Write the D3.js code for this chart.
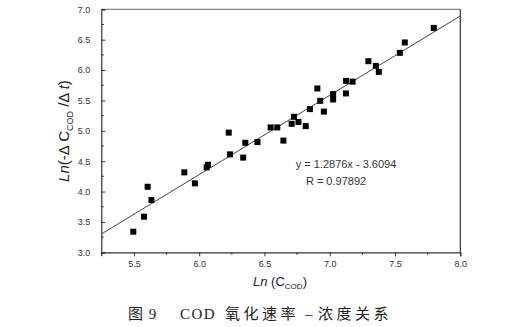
<!DOCTYPE html>
<html><head><meta charset="utf-8">
<script src="https://cdn.jsdelivr.net/npm/d3@7"></script>
<style>body{margin:0;background:#fff}svg{display:block}</style>
</head><body>
<svg id="c" width="508" height="327"></svg>
<script>
const xVals = [5.495,5.577,5.605,5.634,5.886,5.967,6.057,6.067,6.226,6.236,6.337,6.353,6.446,6.645,6.547,6.598,6.708,6.726,6.760,6.816,6.848,6.905,6.927,6.955,7.026,7.026,7.125,7.124,7.175,7.296,7.353,7.376,7.537,7.575,7.797];
const yVals = [3.339,3.586,4.079,3.860,4.316,4.135,4.398,4.441,4.970,4.612,4.559,4.803,4.814,4.839,5.056,5.056,5.115,5.230,5.146,5.077,5.357,5.697,5.493,5.316,5.604,5.516,5.822,5.615,5.809,6.146,6.069,5.970,6.283,6.454,6.694];
const fitX = [5.25, 8.0];
const fitY = [3.30, 6.89];
const xTicks = [5.5,6.0,6.5,7.0,7.5,8.0];
const yTicks = [3.0,3.5,4.0,4.5,5.0,5.5,6.0,6.5,7.0];
const eqText = "y = 1.2876x - 3.6094";
const rText = "R = 0.97892";
const captionParts = ["图 9", "COD", "氧化速率", "–", "浓度关系"];

const svg = d3.select("#c");
const L = 101.3, T = 9.3, R = 460.3, B = 252.3;
const x = d3.scaleLinear().domain([5.25, 8.0]).range([L, R]);
const y = d3.scaleLinear().domain([3.0, 7.0]).range([B, T]);

// frame
svg.append("line").attr("x1",L).attr("x2",R).attr("y1",T).attr("y2",T).attr("stroke","#888").attr("stroke-width",1.2);
svg.append("line").attr("x1",R).attr("x2",R).attr("y1",T).attr("y2",B).attr("stroke","#333").attr("stroke-width",1.2);

// x axis
const xAxis = d3.axisBottom(x).tickValues(xTicks).tickFormat(d3.format(".1f")).tickSize(4).tickPadding(4);
const gx = svg.append("g").attr("transform",`translate(0,${B})`).call(xAxis);
gx.select(".domain").attr("stroke","#333").attr("stroke-width",1.2);
gx.selectAll(".tick line").attr("stroke","#333");
gx.selectAll("text").attr("font-family","Liberation Sans, Arial").attr("font-size",9).attr("fill","#333");
const xMinor = d3.range(5.25, 8.001, 0.25).filter(v => !xTicks.some(t => Math.abs(t-v)<1e-6));
svg.append("g").selectAll("line").data(xMinor).join("line")
  .attr("x1",d=>x(d)).attr("x2",d=>x(d)).attr("y1",B).attr("y2",B+2.5).attr("stroke","#333");

// y axis
const yAxis = d3.axisLeft(y).tickValues(yTicks).tickFormat(d3.format(".1f")).tickSize(-4).tickPadding(11);
const gy = svg.append("g").attr("transform",`translate(${L},0)`).call(yAxis);
gy.select(".domain").attr("stroke","#333").attr("stroke-width",1.2);
gy.selectAll(".tick line").attr("stroke","#333");
gy.selectAll("text").attr("font-family","Liberation Sans, Arial").attr("font-size",9).attr("fill","#333");
const yMinor = d3.range(3.25, 7.0, 0.5);
svg.append("g").selectAll("line").data(yMinor).join("line")
  .attr("x1",L).attr("x2",L+2.5).attr("y1",d=>y(d)).attr("y2",d=>y(d)).attr("stroke","#333");

// fit line
svg.append("path").datum(fitX.map((v,i)=>[v,fitY[i]]))
  .attr("d", d3.line().x(d=>x(d[0])).y(d=>y(d[1])))
  .attr("stroke","#444").attr("stroke-width",1).attr("fill","none");

// points
const s = 6;
svg.append("g").selectAll("rect").data(xVals.map((v,i)=>[v,yVals[i]])).join("rect")
  .attr("x",d=>x(d[0])-s/2).attr("y",d=>y(d[1])-s/2).attr("width",s).attr("height",s).attr("fill","#000");

// equation text
svg.append("text").attr("x",346).attr("y",168).attr("text-anchor","middle")
  .attr("font-family","Liberation Sans, Arial").attr("font-size",11).attr("fill","#333").text(eqText);
svg.append("text").attr("x",336).attr("y",185).attr("text-anchor","middle")
  .attr("font-family","Liberation Sans, Arial").attr("font-size",11).attr("fill","#333").text(rText);

// x label
const xl = svg.append("text").attr("x",280).attr("y",286).attr("text-anchor","middle")
  .attr("font-family","Liberation Sans, Arial").attr("font-size",13).attr("fill","#222");
xl.append("tspan").attr("font-style","italic").text("Ln");
xl.append("tspan").text(" (C");
xl.append("tspan").attr("font-size",8).attr("dy",3).text("COD");
xl.append("tspan").attr("dy",-3).text(")");

// y label
const yl = svg.append("text").attr("transform","translate(69,131) rotate(-90)").attr("text-anchor","middle")
  .attr("font-family","Liberation Sans, Arial").attr("font-size",15).attr("fill","#222");
yl.append("tspan").attr("font-style","italic").text("Ln");
yl.append("tspan").text("(-Δ C");
yl.append("tspan").attr("font-size",9).attr("dy",4).text("COD");
yl.append("tspan").attr("dy",-4).text(" /Δ ");
yl.append("tspan").attr("font-style","italic").text("t");
yl.append("tspan").text(")");

// caption
const capX = [128, 180, 225, 305, 318];
const capLS = [1, 1.5, 3.5, 0, 3.5];
captionParts.forEach((t,i) => {
  svg.append("text").attr("x",capX[i]).attr("y",319)
    .attr("font-family","Liberation Serif, Noto Sans CJK SC").attr("font-size",15)
    .attr("letter-spacing",capLS[i]).attr("fill","#222").text(t);
});
</script>
</body></html>
